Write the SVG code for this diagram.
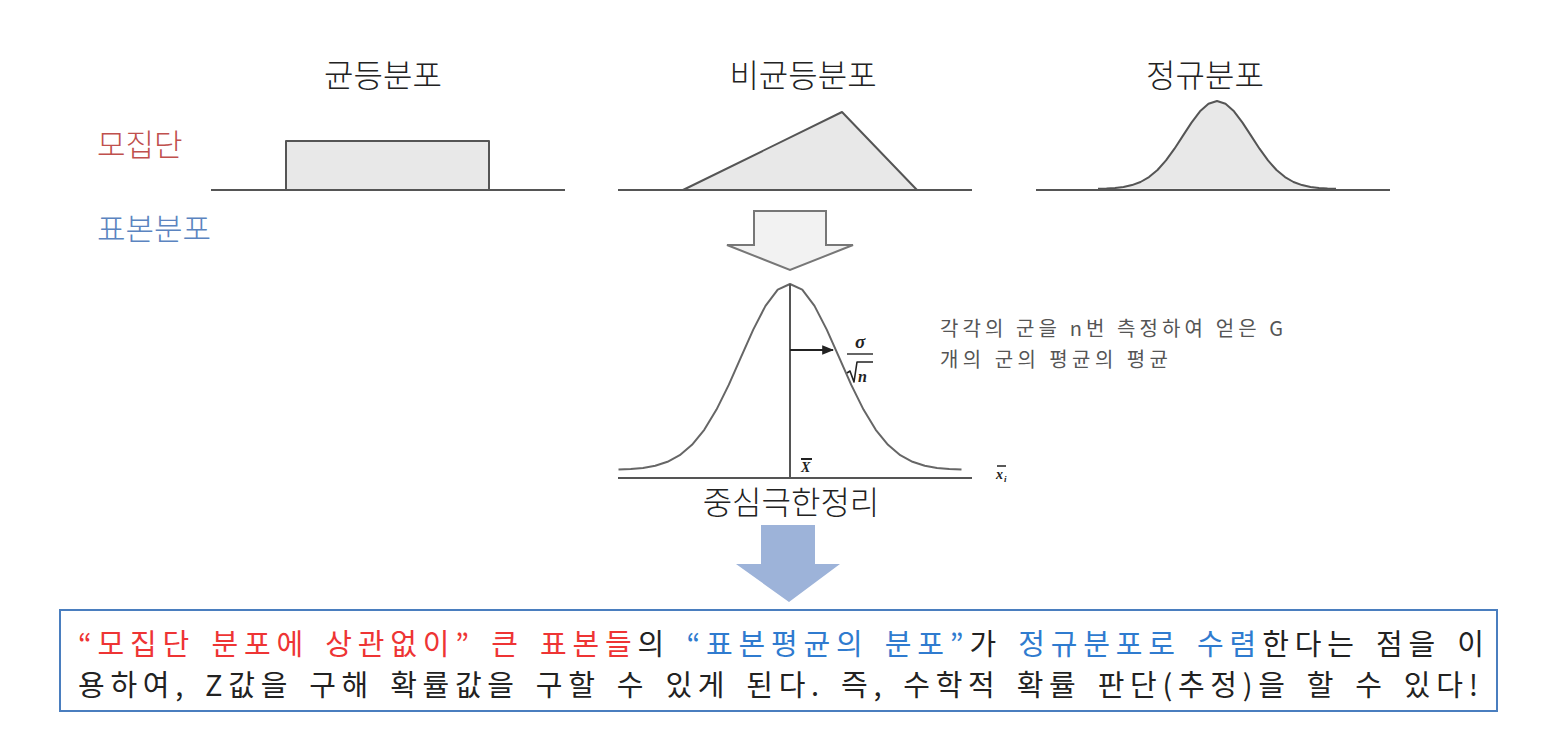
<svg xmlns="http://www.w3.org/2000/svg" width="1556" height="744" viewBox="0 0 1556 744">
<defs>
<style>
text{font-family:"Malgun Gothic","Noto Sans CJK KR","Noto Sans",sans-serif}
.title{font-size:32px;fill:#222;text-anchor:middle;font-weight:300}
.axis{stroke:#555;stroke-width:2;fill:none}
.shape{fill:#e8e8e8;stroke:#555;stroke-width:2;stroke-linejoin:round}
.curve{fill:none;stroke:#666;stroke-width:2;stroke-linejoin:round}
.math{font-family:"Liberation Serif","DejaVu Serif",serif;font-style:italic;font-weight:bold;fill:#222}
.red{fill:#ee3434}
.blue{fill:#2f7bcf}
.box{font-size:29px;fill:#222;word-spacing:4px}
</style>
<marker id="ah" viewBox="0 0 10 10" refX="9" refY="5" markerWidth="6" markerHeight="6" orient="auto">
<path d="M0,1 L10,5 L0,9 z" fill="#222"/>
</marker>
</defs>
<rect width="1556" height="744" fill="#fff"/>

<g id="labels">
<text x="97" y="156" font-size="31" font-weight="300" fill="#c0504d">모집단</text>
<text x="97" y="240" font-size="31" font-weight="300" fill="#5b84c0">표본분포</text>
</g>

<g id="uniform">
<text class="title" x="383" y="87">균등분포</text>
<rect class="shape" x="286" y="141" width="203" height="49"/>
<line class="axis" x1="211" y1="190" x2="565" y2="190"/>
</g>

<g id="nonuniform">
<text class="title" x="803" y="87">비균등분포</text>
<polygon class="shape" points="683,190 842,112 917,190"/>
<line class="axis" x1="618" y1="190" x2="972" y2="190"/>
</g>

<g id="normal">
<text class="title" x="1205" y="87">정규분포</text>
<polyline class="shape" points="1098,188.8 1106.5,188.55 1115,188 1123.5,187 1132,185.1 1140.5,182 1149,177.1 1157.5,170 1166,160.4 1174.5,148.7 1183,135.6 1191.5,122.6 1200,111.3 1208.5,103.7 1217,101 1225.5,103.7 1234,111.3 1242.5,122.6 1251,135.6 1259.5,148.7 1268,160.4 1276.5,170 1285,177.1 1293.5,182 1302,185.1 1310.5,187 1319,188 1327.5,188.55 1336,188.8"/>
<line class="axis" x1="1036" y1="190" x2="1390" y2="190"/>
</g>

<g id="hollow-arrow">
<polygon points="754,211 826,211 826,245 853,245 790,270 727,245 754,245" fill="#f2f2f2" stroke="#777" stroke-width="2" stroke-linejoin="miter"/>
</g>

<g id="sampling-distribution">
<polyline class="curve" points="618.5,469.6 630.75,469.1 643,467.9 655.25,465.8 667.5,461.8 679.75,455.2 692,444.8 704.25,429.8 716.5,409.6 728.75,384.9 741,357.2 753.25,329.6 765.5,305.9 777.75,289.7 790,284 802.25,289.7 814.5,305.9 826.75,329.6 839,357.2 851.25,384.9 863.5,409.6 875.75,429.8 888,444.8 900.25,455.2 912.5,461.8 924.75,465.8 937,467.9 949.25,469.1 961.5,469.6"/>
<line class="axis" x1="618" y1="478" x2="972" y2="478"/>
<line class="axis" x1="790" y1="284" x2="790" y2="478"/>
<line x1="790" y1="350" x2="833" y2="350" stroke="#222" stroke-width="2" marker-end="url(#ah)"/>
<text class="math" x="860" y="348" font-size="19" text-anchor="middle">σ</text>
<line x1="847" y1="354" x2="873" y2="354" stroke="#333" stroke-width="1.5"/>
<path d="M847,373 L850,371 L854,382 L857,362 L873,362" fill="none" stroke="#222" stroke-width="1.6" stroke-linejoin="round"/>
<text class="math" x="858" y="382" font-size="16">n</text>
<text class="math" x="801" y="472" font-size="14">X</text>
<line x1="801" y1="459" x2="812" y2="459" stroke="#222" stroke-width="2"/>
<text class="math" x="996" y="479" font-size="14">x</text>
<text class="math" x="1004" y="482" font-size="9">i</text>
<line x1="997" y1="466" x2="1006" y2="466" stroke="#222" stroke-width="1.5"/>
<text x="940" y="336" font-size="20" fill="#555" textLength="343" lengthAdjust="spacing">각각의 군을 n번 측정하여 얻은 G</text>
<text x="940" y="367" font-size="20" fill="#555" textLength="228" lengthAdjust="spacing">개의 군의 평균의 평균</text>
<text x="791" y="514" font-size="32" font-weight="300" fill="#222" text-anchor="middle">중심극한정리</text>
</g>

<g id="blue-arrow">
<polygon points="761,525 815,525 815,564 840,564 789,602 736,564 761,564" fill="#9db3d9"/>
</g>

<g id="conclusion">
<rect x="60" y="610" width="1437" height="101" fill="#fff" stroke="#4a7ebf" stroke-width="2"/>
<text class="box" x="78" y="655" textLength="1406" lengthAdjust="spacing"><tspan class="red">“모집단 분포에 상관없이”</tspan> <tspan class="red">큰 표본들</tspan>의 <tspan class="blue">“표본평균의 분포”</tspan>가 <tspan class="blue">정규분포로 수렴</tspan>한다는 점을 이</text>
<text class="box" x="78" y="696" textLength="1400" lengthAdjust="spacing">용하여, Z값을 구해 확률값을 구할 수 있게 된다. 즉, 수학적 확률 판단(추정)을 할 수 있다!</text>
</g>
</svg>
